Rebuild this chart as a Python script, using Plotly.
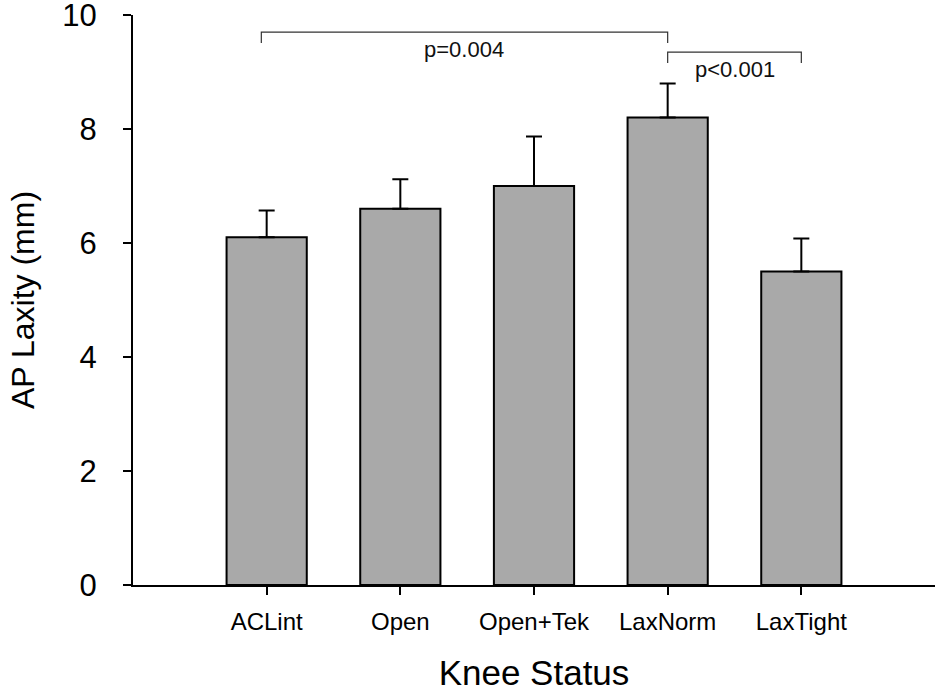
import plotly.graph_objects as go

# data
knee_status = ['ACLint', 'Open', 'Open+Tek', 'LaxNorm', 'LaxTight']
ap_laxity = [6.1, 6.6, 7.0, 8.2, 5.5]
ap_laxity_err = [0.47, 0.52, 0.87, 0.6, 0.58]

# significance brackets: (left group, right group, bracket height, label, label height)
comparisons = [
    ('ACLint', 'LaxNorm', 9.7, 'p=0.004', 9.4),
    ('LaxNorm', 'LaxTight', 9.35, 'p<0.001', 9.05),
]

FONT = 'Liberation Sans, Arial, sans-serif'

fig = go.Figure(data=[go.Bar(
    x=knee_status, y=ap_laxity,
    marker=dict(color='#a9a9a9', line=dict(color='black', width=2)),
    error_y=dict(type='data', array=ap_laxity_err, symmetric=False, arrayminus=[0] * len(ap_laxity),
                 color='black', thickness=2, width=8),
)])

for left, right, h, label, ty in comparisons:
    i0, i1 = knee_status.index(left), knee_status.index(right)
    x0 = i0 - 0.04 if i0 == 0 else i0
    fig.add_shape(type='path', xref='x', yref='y',
                  path=f'M {x0},{h - 0.19} L {x0},{h} L {i1},{h} L {i1},{h - 0.19}',
                  line=dict(color='#333333', width=1.2))
    fig.add_annotation(x=(x0 + i1) / 2, y=ty, xref='x', yref='y', text=label, showarrow=False,
                       font=dict(size=22, color='#111111', family=FONT))

fig.update_layout(
    width=935, height=692, showlegend=False,
    plot_bgcolor='white', paper_bgcolor='white',
    font=dict(family=FONT, color='black'),
    margin=dict(l=133, r=0, t=15, b=107),
    bargap=0.4,
    xaxis=dict(range=[-1, 5], showline=True, linecolor='black', linewidth=2, automargin=False,
               ticks='outside', ticklen=8, tickwidth=2, tickcolor='black',
               tickfont=dict(size=24), ticklabelstandoff=6, showgrid=False, zeroline=False,
               title=dict(text='Knee Status', font=dict(size=35), standoff=30)),
    yaxis=dict(range=[0, 10], dtick=2, showline=True, linecolor='black', linewidth=2, automargin=False,
               ticks='outside', ticklen=8, tickwidth=2, tickcolor='black', ticklabeloverflow='allow',
               tickfont=dict(size=31), ticklabelstandoff=20, showgrid=False, zeroline=False,
               title=dict(text='AP Laxity (mm)', font=dict(size=32), standoff=18)),
)

# page body has a default 8px margin and may scroll; drop both so the figure fills the window
fig.write_html('out.html', config={'displayModeBar': False},
               post_script="document.body.style.margin='0';"
                           "document.body.style.overflow='hidden';"
                           "document.documentElement.style.overflow='hidden';")
